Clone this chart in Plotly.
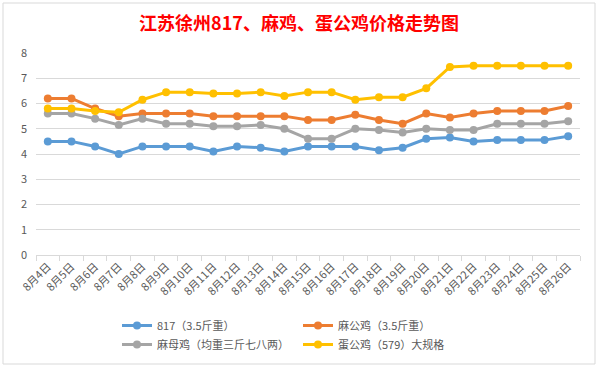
import plotly.graph_objects as go

dates = ["8月4日", "8月5日", "8月6日", "8月7日", "8月8日", "8月9日", "8月10日", "8月11日",
         "8月12日", "8月13日", "8月14日", "8月15日", "8月16日", "8月17日", "8月18日", "8月19日",
         "8月20日", "8月21日", "8月22日", "8月23日", "8月24日", "8月25日", "8月26日"]

s817 = [4.5, 4.5, 4.3, 4.0, 4.3, 4.3, 4.3, 4.1, 4.3, 4.25, 4.1, 4.3, 4.3, 4.3, 4.15, 4.25,
        4.6, 4.65, 4.5, 4.55, 4.55, 4.55, 4.7]
ma_gong = [6.2, 6.2, 5.8, 5.5, 5.6, 5.6, 5.6, 5.5, 5.5, 5.5, 5.5, 5.35, 5.35, 5.55, 5.35, 5.2,
           5.6, 5.45, 5.6, 5.7, 5.7, 5.7, 5.9]
ma_mu = [5.6, 5.6, 5.4, 5.15, 5.4, 5.2, 5.2, 5.1, 5.1, 5.15, 5.0, 4.6, 4.6, 5.0, 4.95, 4.85,
         5.0, 4.95, 4.95, 5.2, 5.2, 5.2, 5.3]
dan_gong = [5.8, 5.8, 5.7, 5.65, 6.15, 6.45, 6.45, 6.4, 6.4, 6.45, 6.3, 6.45, 6.45, 6.15, 6.25, 6.25,
            6.6, 7.45, 7.5, 7.5, 7.5, 7.5, 7.5]

names = ["817（3.5斤重）", "麻公鸡（3.5斤重）", "麻母鸡（均重三斤七八两）", "蛋公鸡（579）大规格"]
colors = ["#5B9BD5", "#ED7D31", "#A5A5A5", "#FFC000"]
series = [s817, ma_gong, ma_mu, dan_gong]
legend_ids = ["legend", "legend2", "legend", "legend2"]

FONT = "Noto Sans CJK SC"

fig = go.Figure()
for n, c, s, lg in zip(names, colors, series, legend_ids):
    fig.add_trace(go.Scatter(
        x=dates, y=s, name=n, mode="lines+markers",
        line=dict(color=c, width=3),
        marker=dict(color=c, size=8),
        legend=lg,
    ))

leg_y = -(311 - 255) / 202
leg_common = dict(orientation="v", yanchor="top", xanchor="left", y=leg_y,
                  font=dict(size=11, color="#595959", family=FONT),
                  tracegroupgap=0, bgcolor="rgba(0,0,0,0)", traceorder="normal")

fig.update_layout(
    width=598, height=367,
    margin=dict(l=36, r=18, t=53, b=112, autoexpand=False),
    paper_bgcolor="white", plot_bgcolor="white",
    font=dict(family=FONT, color="#595959", size=11),
    title=dict(text="<b>江苏徐州817、麻鸡、蛋公鸡价格走势图</b>",
               x=0.5, xref="container", xanchor="center",
               y=1 - 24 / 367, yref="container", yanchor="middle",
               font=dict(family=FONT, size=18, color="#FF0000")),
    showlegend=True,
    legend=dict(x=(117 - 36) / 544, **leg_common),
    legend2=dict(x=(298 - 36) / 544, **leg_common),
    shapes=[dict(type="rect", xref="paper", yref="paper",
                 x0=(3 - 36) / 544, x1=(595 - 36) / 544,
                 y0=-(364 - 255) / 202, y1=1 + (53 - 3) / 202,
                 line=dict(color="#D9D9D9", width=1))],
)

fig.update_xaxes(type="category", range=[-0.5, len(dates) - 0.5],
                 tickangle=-45, tickfont=dict(size=11, color="#595959"),
                 showline=True, linecolor="#D9D9D9", linewidth=1, automargin=False,
                 ticks="outside", tickson="boundaries", ticklen=5, tickcolor="#D9D9D9",
                 showgrid=False)
fig.update_yaxes(range=[0, 8], dtick=1, showgrid=True, gridcolor="#D9D9D9", gridwidth=1,
                 zeroline=False, showline=False, tickfont=dict(size=11, color="#595959"),
                 ticklabelstandoff=8, automargin=False)

fig.write_html("out.html", config={"displayModeBar": False},
               post_script="document.body.style.margin='0';document.body.style.overflow='hidden';")
